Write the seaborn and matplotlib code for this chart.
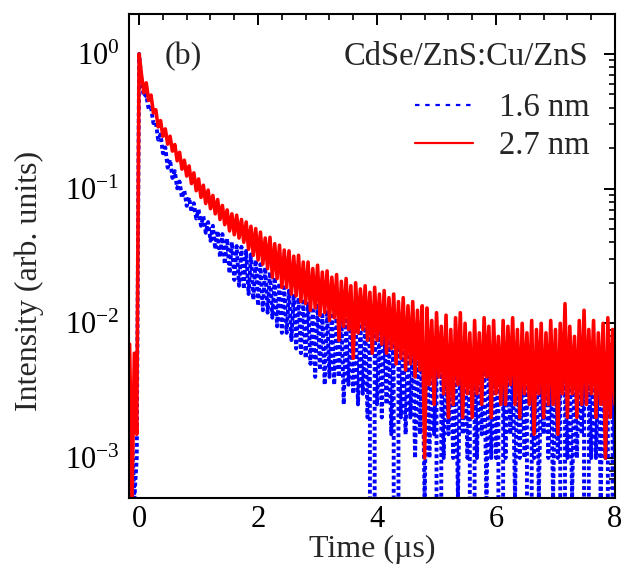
import numpy as np
import pandas as pd
import matplotlib
matplotlib.use("Agg")
import matplotlib.pyplot as plt
import seaborn as sns
from matplotlib.lines import Line2D
from matplotlib.ticker import MultipleLocator, LogLocator, NullFormatter

# ---- data: photon counts (1 count = 1/2000 of the peak) ----
T_START = -0.16          # microseconds
T_STEP = 0.04
PEAK_COUNTS = 2000.0

red_counts = [
    14, 1, 12, 3,
    2000,
    1400, 1030, 1220, 905, 990, 730, 770, 575, 640, 490,
    555, 428, 490, 380, 425, 322, 372, 279, 325, 248,
    295, 218, 262, 193, 236, 172, 212, 155, 195, 142,
    178, 130, 166, 118, 150, 108, 139, 97, 130, 91,
    127, 86, 118, 80, 113, 71, 105, 64, 101, 59,
    95, 55, 86, 51, 87, 44, 78, 43, 76, 37,
    70, 37, 69, 33, 63, 32, 64, 29, 57, 28,
    57, 25, 51, 26, 54, 23, 48, 24, 49, 21,
    44, 22, 46, 15, 41, 19, 43, 18, 38, 11,
    40, 17, 36, 18, 38, 15, 34, 12, 37, 15,
    33, 14, 35, 12, 31, 13, 33, 10, 29, 11,
    31, 9, 27, 10, 29, 8, 25, 9, 27, 2,
    26, 7, 21, 5, 24, 8, 19, 6, 23, 4,
    18, 5, 22, 7, 24, 4, 20, 6, 17, 4,
    21, 6, 17, 5, 22, 8, 19, 4, 21, 6,
    16, 5, 21, 5, 19, 7, 22, 5, 18, 4,
    20, 6, 17, 5, 21, 3, 18, 6, 20, 4,
    17, 5, 21, 5, 18, 3, 20, 6, 28, 4,
    19, 6, 16, 4, 21, 5, 25, 5, 18, 6,
    21, 4, 17, 5, 20, 2, 22, 4, 18, 5,
]

blue_counts = [
    0, 3, 1, 2,
    2000,
    1250, 960, 995, 780, 800, 612, 625, 462, 505, 366,
    405, 286, 328, 240, 270, 201, 226, 171, 194, 149,
    172, 134, 156, 120, 140, 106, 125, 94, 113, 82,
    106, 71, 97, 62, 92, 55, 85, 47, 80, 42,
    75, 38, 74, 36, 69, 33, 65, 30, 59, 27,
    55, 25, 52, 24, 48, 22, 44, 19, 40, 17,
    37, 17, 35, 15, 33, 13, 31, 12, 29, 11,
    28, 10, 25, 8, 27, 9, 23, 7, 25, 8,
    24, 7, 22, 8, 23, 5, 21, 7, 22, 6,
    21, 5, 19, 6, 20, 4, 18, 0, 19, 5,
    18, 4, 19, 5, 17, 3, 18, 0, 16, 4,
    16, 3, 15, 4, 14, 2, 15, 3, 13, 1,
    13, 2, 12, 3, 13, 0, 12, 2, 11, 3,
    12, 2, 11, 1, 12, 3, 11, 2, 12, 0,
    11, 2, 12, 3, 10, 1, 11, 2, 12, 2,
    11, 0, 10, 2, 11, 3, 10, 1, 11, 2,
    10, 2, 11, 0, 10, 2, 11, 1, 10, 3,
    11, 2, 10, 1, 11, 2, 10, 0, 11, 2,
    10, 1, 11, 2, 10, 3, 10, 0, 11, 2,
    10, 2, 11, 1, 10, 2, 11, 0, 10, 2,
]

series_labels = ["1.6 nm", "2.7 nm"]
series_colors = ["#0000ff", "#ff0000"]
legend_title = "CdSe/ZnS:Cu/ZnS"
panel_label = "(b)"
x_ticks = [0, 2, 4, 6, 8]

assert len(red_counts) == len(blue_counts)
time_us = T_START + T_STEP * np.arange(len(red_counts))
df_blue = pd.DataFrame({"t": time_us, "I": np.array(blue_counts) / PEAK_COUNTS})
df_red = pd.DataFrame({"t": time_us, "I": np.array(red_counts) / PEAK_COUNTS})

# ---- style ----
sns.set_theme(style="white")
plt.rcParams["font.family"] = ["Liberation Serif", "DejaVu Serif"]
plt.rcParams["mathtext.fontset"] = "custom"
plt.rcParams["mathtext.rm"] = "Liberation Serif"
plt.rcParams["mathtext.it"] = "Liberation Serif:italic"
plt.rcParams["mathtext.bf"] = "Liberation Serif:bold"

fig = plt.figure(figsize=(6.22, 5.75), dpi=100)
ax = fig.add_axes([0.2074, 0.1339, 0.7813, 0.8418])

sns.lineplot(data=df_blue, x="t", y="I", ax=ax, color=series_colors[0],
             linestyle=(0, (1.0, 0.7)), linewidth=2.8, estimator=None)
sns.lineplot(data=df_red, x="t", y="I", ax=ax, color=series_colors[1],
             linestyle="-", linewidth=2.6, estimator=None)

ax.set_yscale("log")
ax.set_xlim(-0.17, 8.0)
ax.set_ylim(5.05e-4, 1.98)

ax.xaxis.set_major_locator(MultipleLocator(2))
ax.xaxis.set_minor_locator(MultipleLocator(0.4))
ax.set_xticks(x_ticks)
ax.yaxis.set_major_locator(LogLocator(base=10, numticks=20))
ax.yaxis.set_minor_locator(LogLocator(base=10, subs=np.arange(2, 10), numticks=100))
ax.yaxis.set_minor_formatter(NullFormatter())

ax.tick_params(which="both", direction="in", top=True, right=True,
               colors="black", labelsize=22)
ax.tick_params(which="major", length=8, width=1.4)
ax.tick_params(which="minor", length=4.5, width=1.2)
ax.tick_params(axis="x", which="major", pad=5)
ax.tick_params(axis="y", which="major", pad=7)

for sp in ax.spines.values():
    sp.set_visible(True)
    sp.set_color("black")
    sp.set_linewidth(1.5)

ax.set_xlabel("Time (\u00b5s)", fontsize=23, labelpad=1)
ax.set_ylabel("Intensity (arb. units)", fontsize=23)
ax.yaxis.set_label_coords(-0.175, 0.448)

ax.text(0.073, 0.943, panel_label, transform=ax.transAxes, fontsize=23,
        ha="left", va="top")

# legend title as its own text, legend entries below it
ax.text(0.944, 0.911, legend_title, transform=ax.transAxes, fontsize=23.5,
        ha="right", va="center")

proxies = [Line2D([], [], color=series_colors[0], linestyle=(0, (2.0, 2.6)), linewidth=1.6),
           Line2D([], [], color=series_colors[1], linestyle="-", linewidth=1.6)]
leg = ax.legend(proxies, series_labels, loc="upper right", frameon=False,
                fontsize=23.5, handlelength=1.8, handletextpad=0.8,
                labelspacing=0.23, borderaxespad=0.0, borderpad=0.0,
                bbox_to_anchor=(0.949, 0.837))

fig.savefig("out.png", dpi=100)
